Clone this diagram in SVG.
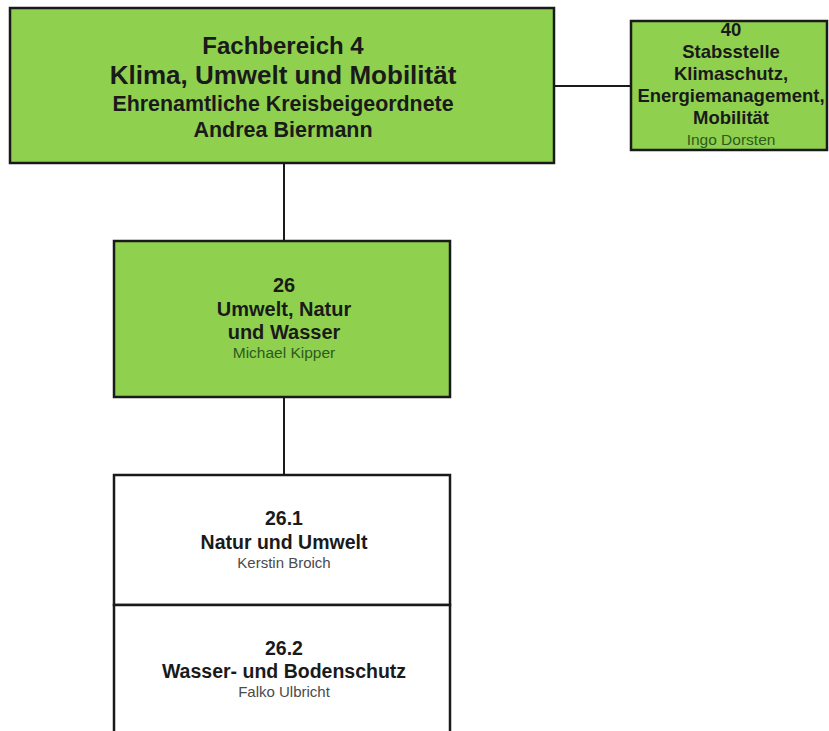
<svg xmlns="http://www.w3.org/2000/svg" width="829" height="731" viewBox="0 0 829 731">
<style>
.g{fill:#8fd14f;stroke:#1a1a1a;stroke-width:2.5}
.w{fill:#ffffff;stroke:#1a1a1a;stroke-width:2.5}
text{font-family:"Liberation Sans",Arial,sans-serif;text-anchor:middle;fill:#1a1a1a}
.b{font-weight:bold}
.n{font-size:15px;fill:#4a4a4a}
.ng{font-size:15.5px;fill:#2e5a1c}
.c{stroke:#1a1a1a;stroke-width:2;fill:none}
</style>
<rect width="829" height="731" fill="#ffffff"/>
<g id="connectors">
<line class="c" x1="284" y1="163" x2="284" y2="241"/>
<line class="c" x1="554" y1="86" x2="631" y2="86"/>
<line class="c" x1="284" y1="397" x2="284" y2="475"/>
</g>
<g id="fb4">
<rect class="g" x="10" y="8" width="544" height="155"/>
<text class="b" x="283" y="54" font-size="24">Fachbereich 4</text>
<text class="b" x="283" y="84" font-size="26">Klima, Umwelt und Mobilität</text>
<text class="b" x="283" y="111" font-size="21.4">Ehrenamtliche Kreisbeigeordnete</text>
<text class="b" x="283" y="137" font-size="21.5">Andrea Biermann</text>
</g>
<g id="n40">
<rect class="g" x="631" y="21" width="196" height="129"/>
<text class="b" x="731" y="36" font-size="18.5">40</text>
<text class="b" x="731" y="58" font-size="18.5">Stabsstelle</text>
<text class="b" x="731" y="80" font-size="18.5">Klimaschutz,</text>
<text class="b" x="731" y="102" font-size="18.5">Energiemanagement,</text>
<text class="b" x="731" y="124" font-size="18.5">Mobilität</text>
<text class="ng" x="731" y="145">Ingo Dorsten</text>
</g>
<g id="n26">
<rect class="g" x="114" y="241" width="336" height="156"/>
<text class="b" x="284" y="292" font-size="20">26</text>
<text class="b" x="284" y="316" font-size="20">Umwelt, Natur</text>
<text class="b" x="284" y="339" font-size="20">und Wasser</text>
<text class="ng" x="284" y="358">Michael Kipper</text>
</g>
<g id="n26_1">
<rect class="w" x="114" y="475" width="336" height="130"/>
<text class="b" x="284" y="525" font-size="19.5">26.1</text>
<text class="b" x="284" y="549" font-size="19.5">Natur und Umwelt</text>
<text class="n" x="284" y="568">Kerstin Broich</text>
</g>
<g id="n26_2">
<rect class="w" x="114" y="605" width="336" height="140"/>
<text class="b" x="284" y="655" font-size="19.5">26.2</text>
<text class="b" x="284" y="678" font-size="19.5">Wasser- und Bodenschutz</text>
<text class="n" x="284" y="697">Falko Ulbricht</text>
</g>
</svg>
